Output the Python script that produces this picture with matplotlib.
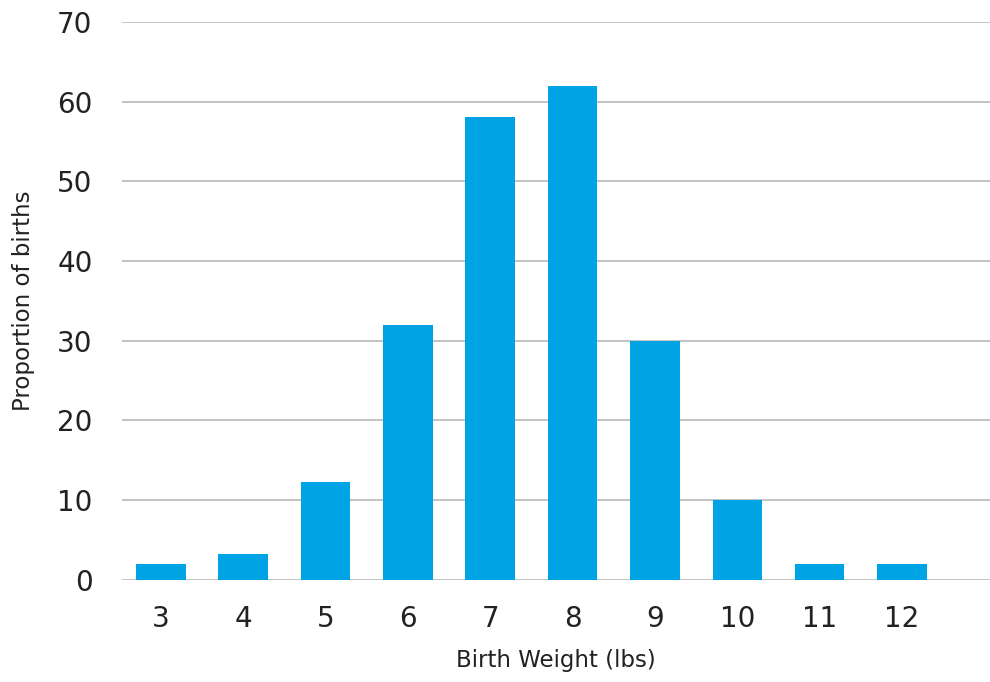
import matplotlib
matplotlib.use("Agg")
import matplotlib.pyplot as plt

weights = [3, 4, 5, 6, 7, 8, 9, 10, 11, 12]
proportions = [2, 3.2, 12.3, 32, 58, 62, 30, 10, 2, 2]
yticks = [0, 10, 20, 30, 40, 50, 60, 70]

plt.rcParams['font.family'] = ['DejaVu Sans']

fig = plt.figure(figsize=(9.90, 6.82), dpi=100)
ax = fig.add_axes([0.123, 0.150, 0.877, 0.818])

ax.bar(weights, proportions, width=0.6, color='#00A3E3', zorder=3)
ax.set_xlim(2.526, 13.07)
ax.set_ylim(0, 70)
ax.set_yticks(yticks)
ax.set_xticks(weights)
ax.yaxis.grid(True, color='#bdbdbd', linewidth=1.3, zorder=0)
for s in ax.spines.values():
    s.set_visible(False)
ax.tick_params(axis='both', length=0, labelsize=20, colors='#222222')
ax.tick_params(axis='y', pad=21)
ax.tick_params(axis='x', pad=18)
ax.set_xlabel('Birth Weight (lbs)', fontsize=16.5, color='#222222', labelpad=12)
ax.set_ylabel('Proportion of births', fontsize=16.5, color='#222222', labelpad=16)

fig.savefig('out.png', dpi=100)
